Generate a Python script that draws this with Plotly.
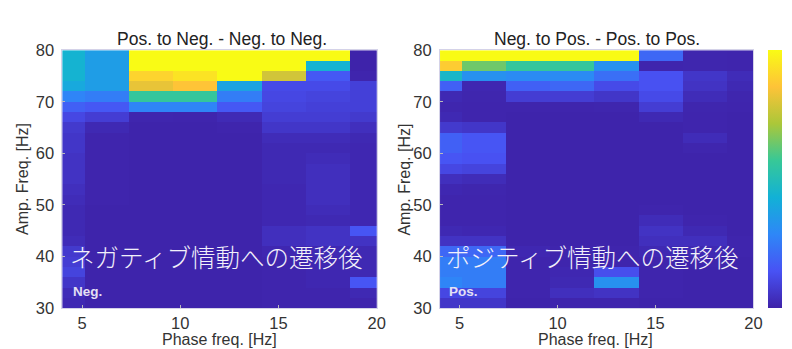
import plotly.graph_objects as go

# ---------------- data ----------------
phase_freqs = [4, 6.25, 8.5, 10.75, 13, 15.25, 17.5, 19.75]
amp_freqs = [79, 77, 75, 73, 71, 69, 67, 65, 63, 61, 59, 57, 55,
             53, 51, 49, 47, 45, 43, 41, 39, 37, 35, 33, 31]

# rows follow amp_freqs (top -> bottom), columns follow phase_freqs
z_neg = [
    [2.2, 1.8, 5.0, 5.0, 5.0, 5.0, 5.0, 0.02],
    [2.2, 1.8, 5.0, 5.0, 5.0, 5.0, 2.2, 0.02],
    [2.2, 1.8, 4.5, 4.7, 5.0, 3.9, 0.8, 0.05],
    [2.0, 1.8, 4.1, 4.3, 1.9, 0.6, 0.6, 0.45],
    [1.4, 1.3, 2.8, 2.8, 1.3, 0.55, 0.5, 0.45],
    [0.9, 0.8, 1.4, 1.4, 0.8, 0.5, 0.45, 0.45],
    [0.55, 0.4, 0.06, 0.05, 0.12, 0.4, 0.4, 0.35],
    [0.35, 0.1, 0.03, 0.03, 0.05, 0.3, 0.3, 0.2],
    [0.3, 0.05, 0.03, 0.03, 0.03, 0.15, 0.15, 0.1],
    [0.3, 0.05, 0.03, 0.03, 0.03, 0.1, 0.1, 0.08],
    [0.25, 0.05, 0.03, 0.03, 0.03, 0.1, 0.15, 0.08],
    [0.25, 0.05, 0.03, 0.03, 0.03, 0.1, 0.2, 0.08],
    [0.25, 0.05, 0.03, 0.03, 0.03, 0.1, 0.2, 0.08],
    [0.2, 0.05, 0.03, 0.03, 0.03, 0.08, 0.2, 0.08],
    [0.15, 0.05, 0.03, 0.03, 0.03, 0.08, 0.2, 0.08],
    [0.1, 0.03, 0.03, 0.03, 0.03, 0.08, 0.15, 0.08],
    [0.1, 0.03, 0.03, 0.03, 0.03, 0.08, 0.1, 0.08],
    [0.1, 0.03, 0.03, 0.03, 0.03, 0.2, 0.25, 0.75],
    [0.15, 0.03, 0.03, 0.03, 0.03, 0.2, 0.25, 0.25],
    [0.35, 0.03, 0.03, 0.03, 0.03, 0.08, 0.1, 0.1],
    [0.4, 0.03, 0.03, 0.03, 0.03, 0.05, 0.08, 0.1],
    [0.5, 0.03, 0.03, 0.03, 0.03, 0.05, 0.08, 0.1],
    [0.3, 0.03, 0.03, 0.03, 0.03, 0.05, 0.08, 0.75],
    [0.15, 0.03, 0.03, 0.03, 0.03, 0.05, 0.05, 0.1],
    [0.1, 0.03, 0.03, 0.03, 0.03, 0.05, 0.05, 0.05],
]

z_pos = [
    [5.0, 5.0, 5.0, 5.0, 5.0, 1.0, 0.06, 0.05],
    [4.4, 3.2, 2.8, 2.8, 1.6, 0.05, 0.06, 0.05],
    [2.3, 1.6, 1.5, 1.5, 1.1, 0.7, 0.3, 0.15],
    [0.9, 0.08, 0.9, 1.0, 0.6, 0.7, 0.25, 0.1],
    [0.1, 0.06, 0.4, 0.4, 0.3, 0.6, 0.15, 0.06],
    [0.06, 0.05, 0.05, 0.05, 0.06, 0.4, 0.06, 0.05],
    [0.1, 0.05, 0.03, 0.03, 0.03, 0.1, 0.05, 0.03],
    [0.35, 0.3, 0.03, 0.03, 0.03, 0.03, 0.05, 0.03],
    [0.9, 0.75, 0.03, 0.03, 0.03, 0.03, 0.15, 0.03],
    [0.9, 0.75, 0.03, 0.03, 0.03, 0.03, 0.06, 0.03],
    [0.75, 0.7, 0.03, 0.03, 0.03, 0.03, 0.03, 0.03],
    [0.55, 0.5, 0.03, 0.03, 0.03, 0.03, 0.03, 0.03],
    [0.2, 0.15, 0.03, 0.03, 0.03, 0.03, 0.03, 0.03],
    [0.08, 0.06, 0.03, 0.03, 0.03, 0.03, 0.03, 0.03],
    [0.05, 0.05, 0.03, 0.03, 0.03, 0.03, 0.03, 0.03],
    [0.05, 0.05, 0.03, 0.03, 0.03, 0.05, 0.03, 0.03],
    [0.05, 0.05, 0.03, 0.03, 0.03, 0.15, 0.05, 0.03],
    [0.1, 0.08, 0.03, 0.03, 0.03, 0.25, 0.1, 0.03],
    [0.25, 0.25, 0.03, 0.03, 0.03, 0.2, 0.2, 0.05],
    [1.0, 1.0, 0.08, 0.05, 0.05, 0.1, 0.1, 0.05],
    [1.3, 1.3, 0.05, 0.05, 0.05, 0.05, 0.05, 0.03],
    [1.3, 1.3, 0.05, 0.08, 0.65, 0.05, 0.03, 0.03],
    [1.4, 1.3, 0.05, 0.1, 1.6, 0.05, 0.03, 0.03],
    [0.55, 0.5, 0.05, 0.2, 0.25, 0.05, 0.03, 0.03],
    [0.3, 0.3, 0.03, 0.05, 0.05, 0.03, 0.03, 0.03],
]

titles = ["Pos. to Neg. - Neg. to Neg.", "Neg. to Pos. - Pos. to Pos."]
overlay_texts = ["ネガティブ情動への遷移後", "ポジティブ情動への遷移後"]
corner_labels = ["Neg.", "Pos."]
x_ticks = [5, 10, 15, 20]
y_ticks = [30, 40, 50, 60, 70, 80]
c_ticks = [0, 1, 2, 3, 4, 5]

# parula-like colour map
parula = [
    [0.0, "rgb(62,34,168)"],
    [1 / 7, "rgb(72,82,244)"],
    [2 / 7, "rgb(46,135,247)"],
    [3 / 7, "rgb(18,177,214)"],
    [4 / 7, "rgb(55,200,151)"],
    [5 / 7, "rgb(171,199,57)"],
    [6 / 7, "rgb(254,195,56)"],
    [1.0, "rgb(249,251,21)"],
]

W, H = 792, 349


def px(x):
    return x / W


def py(y):
    return 1 - y / H


fig = go.Figure()

fig.add_trace(go.Heatmap(
    x=phase_freqs, y=amp_freqs, z=z_neg, zmin=0, zmax=5,
    colorscale=parula, showscale=False, xaxis="x", yaxis="y",
))
fig.add_trace(go.Heatmap(
    x=phase_freqs, y=amp_freqs, z=z_pos, zmin=0, zmax=5,
    colorscale=parula, xaxis="x2", yaxis="y2",
    colorbar=dict(
        x=px(769), xanchor="left", thickness=14, thicknessmode="pixels",
        y=py(307), yanchor="bottom", len=(307 - 35) / H, lenmode="fraction",
        tickvals=c_ticks, outlinewidth=0, ticks="", ticklen=0,
        tickfont=dict(family="Liberation Sans, Arial", size=16, color="#333"),
        xpad=0, ypad=0,
    ),
))

axis_font = dict(family="Liberation Sans, Arial", size=16.5, color="#333")
common_x = dict(range=[4, 20], tickvals=x_ticks, ticks="inside", ticklen=3,
                tickcolor="#bbb", showline=True, linecolor="#d4d2e8", mirror=True,
                linewidth=1, showgrid=False, zeroline=False, tickfont=axis_font,
                ticklabelstandoff=0)
common_y = dict(range=[30, 80], tickvals=y_ticks, ticks="inside", ticklen=3,
                tickcolor="#bbb", showline=True, linecolor="#d4d2e8", mirror=True,
                linewidth=1, showgrid=False, zeroline=False, tickfont=axis_font,
                ticklabelstandoff=4)

ydom = [py(307), py(35)]
fig.update_layout(
    width=W, height=H,
    margin=dict(l=0, r=0, t=0, b=0),
    paper_bgcolor="white", plot_bgcolor="white",
    xaxis=dict(domain=[px(55), px(373)], anchor="y", **common_x),
    yaxis=dict(domain=ydom, anchor="x", **common_y),
    xaxis2=dict(domain=[px(437), px(754)], anchor="y2", **common_x),
    yaxis2=dict(domain=ydom, anchor="x2", **common_y),
    showlegend=False,
)

ann = []
font_title = dict(family="Liberation Sans, Arial", size=17.5, color="#222")
font_lab = dict(family="Liberation Sans, Arial", size=16, color="#333")
for i, (cx, lx, ylx) in enumerate([(216, 65, 14), (596, 445, 401)]):
    ann.append(dict(text=titles[i], x=px(cx), y=py(23), xref="paper", yref="paper",
                    showarrow=False, font=font_title, xanchor="center", yanchor="middle"))
    ann.append(dict(text="Phase freq. [Hz]", x=px(cx - 2), y=py(340), xref="paper",
                    yref="paper", showarrow=False, font=font_lab,
                    xanchor="center", yanchor="middle"))
    ann.append(dict(text="Amp. Freq. [Hz]", x=px(ylx), y=py(171), xref="paper",
                    yref="paper", showarrow=False, font=font_lab, textangle=-90,
                    xanchor="center", yanchor="middle"))
    ann.append(dict(text=overlay_texts[i], x=px(lx - 4), y=py(252), xref="paper",
                    yref="paper", showarrow=False, xanchor="left", yanchor="middle",
                    font=dict(family="Noto Sans CJK JP", size=24.5, color="#F2F0FA",
                              weight=300)))
    ann.append(dict(text="<b>" + corner_labels[i] + "</b>", x=px(lx - 1), y=py(289),
                    xref="paper", yref="paper", showarrow=False, xanchor="left",
                    yanchor="middle",
                    font=dict(family="Liberation Sans, Arial", size=13.5, color="#E4E0F4")))
fig.update_layout(annotations=ann)

fig.write_html("out.html")
